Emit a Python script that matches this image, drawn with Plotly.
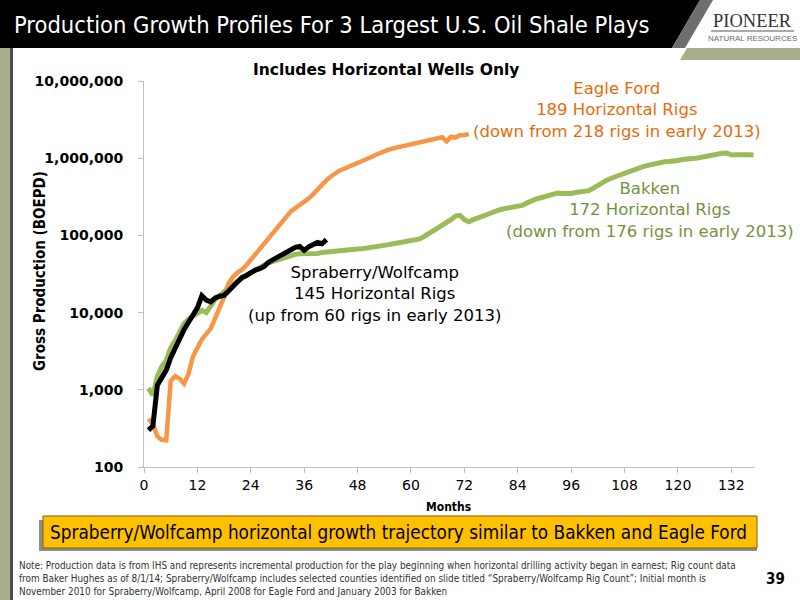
import plotly.graph_objects as go

# production by month since horizontal drilling started (BOEPD)
sw_months = list(range(1, 42))
sw_boepd = [300, 340, 1150, 1500, 1800, 2600, 3500, 4600, 6000, 7500,
            9200, 11500, 16500, 14500, 13800, 15500, 16300, 16700, 19000, 21500,
            25500, 28500, 30300, 33000, 35500, 37000, 39500, 45000, 48500, 51000,
            54000, 59000, 64000, 70000, 72000, 64000, 71000, 77000, 81000, 78000,
            88000]

ef_months = list(range(1, 74))
ef_boepd = [420, 360, 250, 225, 222, 1300, 1500, 1400, 1200, 1600,
            2700, 3600, 4500, 5300, 6200, 8500, 11500, 16000, 24000, 29000,
            33000, 36000, 41000, 48000, 56000, 65000, 76000, 90000, 105000, 122000,
            143000, 175000, 205000, 225000, 245000, 270000, 300000, 340000, 395000, 450000,
            520000, 580000, 640000, 695000, 730000, 770000, 805000, 860000, 910000, 970000,
            1030000, 1100000, 1170000, 1230000, 1290000, 1340000, 1380000, 1440000, 1500000, 1560000,
            1600000, 1650000, 1700000, 1740000, 1780000, 1840000, 1870000, 1650000, 1900000, 1850000,
            1980000, 2000000, 2050000]

bk_months = list(range(1, 138))
bk_boepd = [1050, 850, 1500, 2000, 2400, 3500, 4300, 5500, 7200, 8200,
            9000, 9900, 10700, 10000, 12500, 14800, 16500, 19000, 21000, 23500,
            25500, 27500, 30000, 33000, 36000, 39000, 41500, 44000, 46000, 48000,
            51000, 54000, 56000, 57000, 58000, 58000, 57500, 58000, 58500, 60000,
            61000, 62000, 63000, 64000, 65000, 65000, 66000, 66500, 67000, 68000,
            70000, 71000, 73000, 74000, 76000, 78000, 80000, 82000, 84000, 86000,
            87000, 90000, 97000, 105000, 117000, 128000, 136000, 145000, 160000, 178000,
            182000, 160000, 150000, 160000, 170000, 178000, 185000, 195000, 208000, 215000,
            222000, 228000, 232000, 235000, 245000, 262000, 280000, 295000, 305000, 318000,
            330000, 350000, 355000, 350000, 345000, 350000, 360000, 365000, 372000, 380000,
            410000, 450000, 490000, 520000, 550000, 580000, 610000, 640000, 670000, 700000,
            740000, 770000, 800000, 830000, 860000, 890000, 900000, 905000, 910000, 935000,
            960000, 965000, 980000, 1000000, 1020000, 1050000, 1080000, 1110000, 1140000, 1160000,
            1170000, 1100000, 1110000, 1120000, 1125000, 1110000, 1100000]

x_ticks = list(range(0, 133, 12))
y_ticks = [100, 1000, 10000, 100000, 1000000, 10000000]
y_labels = ["100", "1,000", "10,000", "100,000", "1,000,000", "10,000,000"]

ORANGE = "#f79646"
GREEN = "#9bbb59"

# plot area in pixels: x 144..754, y 81..467
L, R, T, B = 144, 46, 81, 133
PW, PH = 800 - L - R, 600 - T - B


def px(x):
    return (x - L) / PW


def py(y):
    return (600 - B - y) / PH


fig = go.Figure()
fig.add_trace(go.Scatter(x=bk_months, y=bk_boepd, mode="lines", name="Bakken",
                         line=dict(color=GREEN, width=5)))
fig.add_trace(go.Scatter(x=ef_months, y=ef_boepd, mode="lines", name="Eagle Ford",
                         line=dict(color=ORANGE, width=4.5)))
fig.add_trace(go.Scatter(x=sw_months, y=sw_boepd, mode="lines", name="Spraberry/Wolfcamp",
                         line=dict(color="black", width=5)))


def poly(pts, color, line_color=None):
    d = "M " + " L ".join(f"{px(a):.4f},{py(b):.4f}" for a, b in pts) + " Z"
    fig.add_shape(type="path", xref="paper", yref="paper", path=d, fillcolor=color,
                  line=dict(color=line_color or color, width=1 if line_color else 0), layer="below")


# slide frame
poly([(0, 0), (700, 0), (672, 48), (0, 48)], "black")
poly([(700, 0), (713, 0), (685, 48), (672, 48)], "#6e6e6e")
poly([(687, 48), (800, 48), (800, 60), (680, 60)], "#a9ad8b")
poly([(0, 48), (10, 48), (10, 600), (0, 600)], "#a9ad8b")
poly([(10, 48), (13, 48), (13, 600), (10, 600)], "#4a4a4a")
# callout box with shadow
poly([(39, 520), (757, 520), (757, 551), (39, 551)], "#8c8c8c")
poly([(43, 516), (757, 516), (757, 548), (43, 548)], "#ffc000", "#7f6000")
fig.add_shape(type="line", xref="paper", yref="paper", x0=px(711), x1=px(794), y0=py(31), y1=py(31),
              line=dict(color="#555555", width=1))

anns = [
    dict(text="Production Growth Profiles For 3 Largest U.S. Oil Shale Plays", x=12, y=25, xanchor="left",
         font=dict(family="DejaVu Sans Condensed", size=23.5, color="white")),
    dict(text="PIONEER", x=752, y=21, font=dict(family="Liberation Serif", size=18.5, color="#333333")),
    dict(text="NATURAL RESOURCES", x=752, y=38, font=dict(family="Liberation Sans", size=8, color="#6b6b6b")),
    dict(text="<b>Includes Horizontal Wells Only</b>", x=386, y=70,
         font=dict(family="DejaVu Sans", size=15.5, color="black")),
    dict(text="Eagle Ford<br>189 Horizontal Rigs<br>(down from 218 rigs in early 2013)", x=617, y=110,
         font=dict(family="DejaVu Sans", size=16.5, color="#e46c0a")),
    dict(text="Bakken<br>172 Horizontal Rigs<br>(down from 176 rigs in early 2013)", x=650, y=210,
         font=dict(family="DejaVu Sans", size=16.5, color="#76923c")),
    dict(text="Spraberry/Wolfcamp<br>145 Horizontal Rigs<br>(up from 60 rigs in early 2013)", x=375, y=294,
         font=dict(family="DejaVu Sans", size=16.5, color="black")),
    dict(text="<b>Gross Production (BOEPD)</b>", x=40, y=271, textangle=-90,
         font=dict(family="DejaVu Sans Condensed", size=15, color="black")),
    dict(text="<b>Months</b>", x=448, y=507,
         font=dict(family="DejaVu Sans Condensed", size=12, color="black")),
    dict(text="Spraberry/Wolfcamp horizontal growth trajectory similar to Bakken and Eagle Ford", x=398, y=532,
         font=dict(family="DejaVu Sans Condensed", size=18.8, color="black")),
    dict(text="Note: Production data is from IHS and represents incremental production for the play beginning when "
              "horizontal drilling activity began in earnest; Rig count data<br>from Baker Hughes as of 8/1/14; "
              "Spraberry/Wolfcamp includes selected counties identified on slide titled \u201cSpraberry/Wolfcamp Rig "
              "Count\u201d; Initial month is<br>November 2010 for Spraberry/Wolfcamp, April 2008 for Eagle Ford and "
              "January 2003 for Bakken", x=17, y=578, xanchor="left", align="left",
         font=dict(family="DejaVu Sans Condensed", size=9.9, color="#333333")),
    dict(text="<b>39</b>", x=775, y=579, font=dict(family="DejaVu Sans Condensed", size=15, color="black")),
]
for a in anns:
    a["x"], a["y"] = px(a["x"]), py(a["y"])
    fig.add_annotation(xref="paper", yref="paper", showarrow=False, yanchor="middle",
                       **{"xanchor": "center", **a})

fig.update_xaxes(range=[0, 137.1], tickvals=x_ticks, ticks="outside", ticklen=5, tickcolor="#bfbfbf",
                 showline=True, linecolor="#bfbfbf", linewidth=1, showgrid=False, zeroline=False,
                 tickfont=dict(family="DejaVu Sans", size=14, color="black"), tickprefix="<b>", ticksuffix="</b>")
fig.update_yaxes(type="log", range=[2, 7], tickvals=y_ticks, ticktext=[f"<b>{t}</b>" for t in y_labels],
                 ticks="outside", ticklen=5, tickcolor="#bfbfbf", showline=True, linecolor="#bfbfbf",
                 linewidth=1, showgrid=False, zeroline=False, ticklabelstandoff=12,
                 tickfont=dict(family="DejaVu Sans", size=14, color="black"))
fig.update_layout(width=800, height=600, margin=dict(l=L, r=R, t=T, b=B),
                  paper_bgcolor="white", plot_bgcolor="white", showlegend=False)

# page has default 8px body margin, drop it so the slide fills the window
fig.write_html("out.html", config={"displayModeBar": False},
               post_script="document.body.style.margin='0';")
